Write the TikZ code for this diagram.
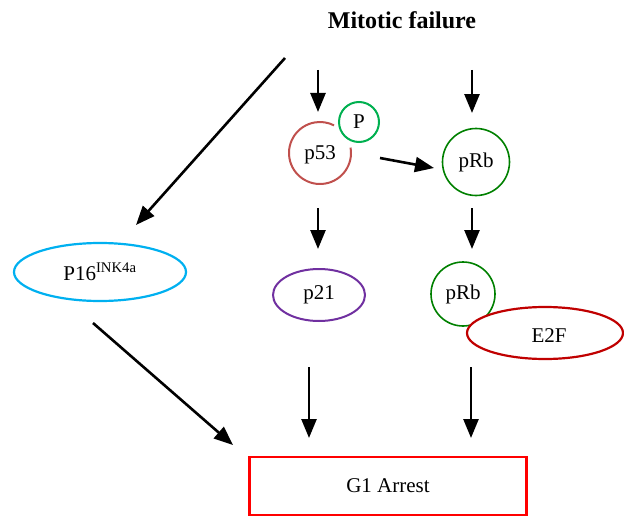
\documentclass[tikz,border=0pt]{standalone}
\usepackage{fontspec}
\setmainfont{Liberation Serif}
\usetikzlibrary{arrows.meta,shapes.geometric}
\definecolor{pgreen}{RGB}{0,176,80}
\definecolor{dgreen}{RGB}{0,128,0}
\definecolor{p53red}{RGB}{192,80,77}
\definecolor{purp}{RGB}{112,48,160}
\definecolor{dred}{RGB}{192,0,0}
\definecolor{cyanb}{RGB}{0,176,240}
\begin{document}
\begin{tikzpicture}[x=1pt,y=-1pt,
  lf/.style={font=\fontsize{21}{24}\selectfont},
  lbl/.style={lf, inner sep=0pt},
  arr/.style={line width=2.6pt, -{Triangle[length=19pt,width=15pt]}},
  ring/.style={line width=2pt}]
\useasboundingbox (0,0) rectangle (624,519);
\node[font=\bfseries\fontsize{24}{27}\selectfont] (title) at (402,20) {Mitotic failure};
% top arrows
\coordinate (a1s) at (285,58); \coordinate (a1e) at (136,225);
\draw[arr] (a1s) -- (a1e);
\coordinate (a2s) at (318,70); \coordinate (a2e) at (318,112);
\draw[arr] (a2s) -- (a2e);
\coordinate (a3s) at (472,70); \coordinate (a3e) at (472,113);
\draw[arr] (a3s) -- (a3e);
% p53
\coordinate (p53c) at (320,153);
\draw[ring, p53red] (p53c) ++(-10:31) arc[start angle=-10, end angle=297, radius=31];
\node[lbl] (p53) at (320,155) {p53};
\node[circle, draw=pgreen, line width=2pt, minimum size=40pt, inner sep=0pt, lf] (P) at (359,122) {P};
% pRb top
\node[circle, draw=dgreen, line width=1.6pt, minimum size=67pt, inner sep=0pt, lf] (pRb1) at (476,162) {pRb};
\coordinate (pa) at (380,158); \coordinate (pb) at (434,168);
\draw[arr] (pa) -- (pb);
% second row arrows
\coordinate (b1s) at (318,208); \coordinate (b1e) at (318,249);
\draw[arr] (b1s) -- (b1e);
\coordinate (b2s) at (472,208); \coordinate (b2e) at (472,249);
\draw[arr] (b2s) -- (b2e);
% p21
\node[ellipse, draw=purp, line width=2pt, minimum width=92pt, minimum height=52pt, inner sep=0pt, lf] (p21) at (319,295) {p21};
% pRb + E2F
\node[circle, draw=dgreen, line width=1.6pt, minimum size=64pt, inner sep=0pt, lf] (pRb2) at (463,294) {pRb};
\node[ellipse, draw=dred, fill=white, line width=2.2pt, minimum width=156pt, minimum height=52pt, inner sep=0pt] (E2F) at (545,333) {};
\node[lbl] (E2Ft) at (549,336) {E2F};
% P16
\node[ellipse, draw=cyanb, line width=2.2pt, minimum width=172pt, minimum height=58pt, inner sep=0pt, lf] (P16) at (100,272) {P16\textsuperscript{INK4a}};
% lower arrows
\coordinate (c1s) at (93,323); \coordinate (c1e) at (233,445);
\draw[arr] (c1s) -- (c1e);
\coordinate (c2s) at (309,367); \coordinate (c2e) at (309,438);
\draw[arr] (c2s) -- (c2e);
\coordinate (c3s) at (471,367); \coordinate (c3e) at (471,438);
\draw[arr] (c3s) -- (c3e);
% G1 arrest
\node[draw=red, line width=2.2pt, minimum width=277pt, minimum height=58pt, inner sep=0pt, lf] (G1) at (388,486) {G1 Arrest};
\end{tikzpicture}
\end{document}
